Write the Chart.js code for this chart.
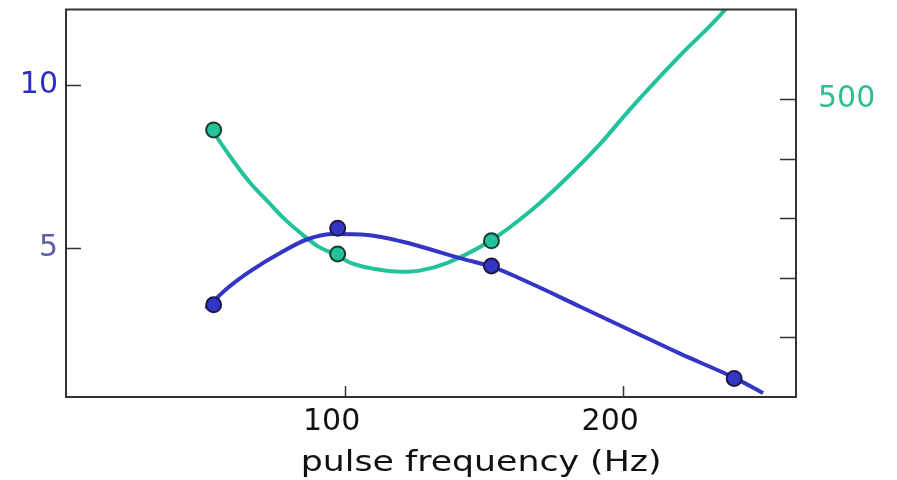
<!DOCTYPE html>
<html>
<head>
<meta charset="utf-8">
<script src="https://cdn.jsdelivr.net/npm/chart.js@4.4.1/dist/chart.umd.min.js"></script>
<style>
  html, body { margin: 0; padding: 0; background: #fff; }
  #wrap { width: 897px; height: 480px; }
</style>
</head>
<body>
<div id="wrap"><canvas id="chart" width="897" height="480"></canvas></div>
<script>
// measured points (x = pulse frequency in Hz)
const blueX = [53, 97.5, 152.7, 239.8];
const blueY = [3.26, 5.61, 4.45, 1.0];
const greenX = [53, 97.5, 152.7];
const greenY = [448, 240, 262];

// fitted curves
const blueFitX = [50.2, 58.1, 66.3, 78.1, 86.7, 96.1, 108.2, 120.1, 142.7, 153.0, 166.7, 184.6, 202.5, 220.4, 240.1, 250.2];
const blueFitY = [3.14, 3.78, 4.30, 4.91, 5.27, 5.43, 5.40, 5.21, 4.66, 4.42, 3.92, 3.20, 2.48, 1.76, 1.01, 0.55];
const greenFitX = [50.9, 60.2, 66.3, 72.4, 78.1, 84.2, 90.3, 96.1, 102.2, 110.4, 120.1, 127.0, 136.9, 152.3, 166.7, 178.5, 191.8, 202.5, 220.4, 236.6, 243.7];
const greenFitY = [458, 395, 358, 328, 300, 275, 253, 240, 225, 215, 210, 212, 225, 262, 312, 362, 425, 483, 573, 650, 695];

// axis ticks
const xTicks = [100, 200];
const leftTicks = [5, 10];
const rightTicks = [100, 200, 300, 400, 500];
const rightLabels = ['500'];
const xTitle = 'pulse frequency (Hz)';

const BLUE = '#3434c6';
const GREEN = '#22c39a';

function pts(xs, ys){ return xs.map((x, i) => ({x: x, y: ys[i]})); }

function noPad(s){ s.paddingTop = 0; s.paddingBottom = 0; s.paddingLeft = 0; s.paddingRight = 0; }

// frame, inward tick marks and the axis title
const frame = {
    id: 'frame',
    afterDraw(chart){
        const ctx = chart.ctx, a = chart.chartArea;
        const sx = chart.scales.x, sy = chart.scales.y, sy2 = chart.scales.y2;
        ctx.save();
        ctx.strokeStyle = '#333';
        ctx.lineWidth = 2;
        ctx.strokeRect(a.left, a.top, a.right - a.left, a.bottom - a.top);
        ctx.lineWidth = 1.5;
        ctx.beginPath();
        sx.ticks.forEach(t => {
            const px = Math.round(sx.getPixelForValue(t.value)) + 0.5;
            ctx.moveTo(px, a.bottom); ctx.lineTo(px, a.bottom - 11);
        });
        sy.ticks.forEach(t => {
            const py = Math.round(sy.getPixelForValue(t.value)) + 0.5;
            ctx.moveTo(a.left, py); ctx.lineTo(a.left + 15, py);
        });
        sy2.ticks.forEach(t => {
            const py = Math.round(sy2.getPixelForValue(t.value)) + 0.5;
            ctx.moveTo(a.right, py); ctx.lineTo(a.right - 16, py);
        });
        ctx.stroke();

        // title sits a bit right of the plot centre, wide lettering
        const cx = sx.getPixelForValue(149);
        ctx.translate(cx, 471);
        ctx.scale(1.24, 1);
        ctx.fillStyle = '#111';
        ctx.font = '28px "DejaVu Sans"';
        ctx.textAlign = 'center';
        ctx.textBaseline = 'alphabetic';
        ctx.fillText(xTitle, 0, 0);
        ctx.restore();
    }
};

const tickFont = { family: 'DejaVu Sans', size: 30 };

new Chart(document.getElementById('chart'), {
    type: 'scatter',
    data: {
        datasets: [
            { data: pts(blueFitX, blueFitY), yAxisID: 'y', showLine: true, borderColor: BLUE, borderWidth: 4, cubicInterpolationMode: 'monotone', pointRadius: 0, clip: 0, order: 2 },
            { data: pts(greenFitX, greenFitY), yAxisID: 'y2', showLine: true, borderColor: GREEN, borderWidth: 4, cubicInterpolationMode: 'monotone', pointRadius: 0, clip: 0, order: 2 },
            { data: pts(blueX, blueY), yAxisID: 'y', pointRadius: 7.5, backgroundColor: BLUE, borderColor: '#1c1c44', borderWidth: 2, order: 1 },
            { data: pts(greenX, greenY), yAxisID: 'y2', pointRadius: 7.5, backgroundColor: GREEN, borderColor: '#1c3a30', borderWidth: 2, order: 1 }
        ]
    },
    options: {
        responsive: false,
        animation: false,
        layout: { padding: { top: 7, left: 0, right: 0, bottom: 0 } },
        plugins: { legend: { display: false }, tooltip: { enabled: false } },
        scales: {
            x: {
                type: 'linear', min: 0, max: 262,
                afterBuildTicks: s => { s.ticks = xTicks.map(v => ({value: v})); },
                afterFit: s => { s.height = 83; noPad(s); },
                grid: { display: false, drawTicks: false, tickLength: 0 },
                border: { display: false },
                ticks: { padding: 7, labelOffset: -13, color: '#111', font: tickFont }
            },
            y: {
                position: 'left', min: 0.43, max: 12.32,
                afterBuildTicks: s => { s.ticks = leftTicks.map(v => ({value: v})); },
                afterFit: s => { s.width = 66; noPad(s); },
                grid: { display: false, drawTicks: false, tickLength: 0 },
                border: { display: false },
                ticks: {
                    padding: 8,
                    font: tickFont,
                    color: c => c.tick && c.tick.value === 10 ? '#2e2ec4' : '#5c5ca6'
                }
            },
            y2: {
                position: 'right', min: 0, max: 650,
                afterBuildTicks: s => { s.ticks = rightTicks.map(v => ({value: v})); },
                afterFit: s => { s.width = 101; noPad(s); },
                grid: { display: false, drawTicks: false, tickLength: 0 },
                border: { display: false },
                ticks: {
                    padding: 22,
                    font: tickFont,
                    color: '#2bbf8f',
                    callback: v => rightLabels.includes(String(v)) ? String(v) : ''
                }
            }
        }
    },
    plugins: [frame]
});
</script>
</body>
</html>
